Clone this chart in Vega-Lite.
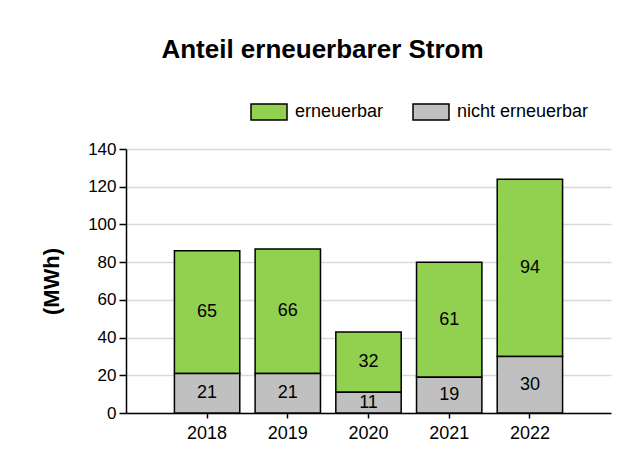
{
  "$schema": "https://vega.github.io/schema/vega-lite/v6.json",
  "width": 485,
  "height": 264,
  "autosize": "none",
  "padding": {"left": 126, "top": 149, "right": 32, "bottom": 52},
  "background": "white",
  "config": {
    "font": "Liberation Sans",
    "view": {"stroke": null},
    "axis": {"labelColor": "#000", "titleColor": "#000", "domainColor": "#000", "tickColor": "#000"},
    "axisY": {
      "values": [0, 20, 40, 60, 80, 100, 120, 140],
      "titleFontSize": 22,
      "titleFontWeight": "bold",
      "titlePadding": 24,
      "labelFontSize": 17,
      "labelPadding": 3,
      "tickSize": 7,
      "tickWidth": 1.5,
      "domainWidth": 1.5,
      "grid": true,
      "gridColor": "#d9d9d9",
      "gridWidth": 1.5,
      "labelOverlap": false
    }
  },
  "title": {
    "text": "Anteil erneuerbarer Strom",
    "font": "Liberation Sans",
    "fontSize": 26,
    "fontWeight": "bold",
    "color": "#000",
    "anchor": "middle",
    "frame": "group",
    "baseline": "alphabetic",
    "offset": 9,
    "dx": -46
  },
  "data": {
    "values": [
      {"Jahr": "2018", "Art": "erneuerbar", "MWh": 65},
      {"Jahr": "2018", "Art": "nicht erneuerbar", "MWh": 21},
      {"Jahr": "2019", "Art": "erneuerbar", "MWh": 66},
      {"Jahr": "2019", "Art": "nicht erneuerbar", "MWh": 21},
      {"Jahr": "2020", "Art": "erneuerbar", "MWh": 32},
      {"Jahr": "2020", "Art": "nicht erneuerbar", "MWh": 11},
      {"Jahr": "2021", "Art": "erneuerbar", "MWh": 61},
      {"Jahr": "2021", "Art": "nicht erneuerbar", "MWh": 19},
      {"Jahr": "2022", "Art": "erneuerbar", "MWh": 94},
      {"Jahr": "2022", "Art": "nicht erneuerbar", "MWh": 30}
    ]
  },
  "transform": [
    {"stack": "MWh", "groupby": ["Jahr"], "sort": [{"field": "Art", "order": "descending"}], "as": ["v0", "v1"], "offset": "zero"},
    {"calculate": "(datum.v0 + datum.v1) / 2", "as": "mitte"}
  ],
  "encoding": {
    "x": {
      "field": "Jahr",
      "type": "ordinal",
      "scale": {"paddingInner": 0.19, "paddingOuter": 0.6},
      "axis": {"title": null, "labelAngle": 0, "labelFontSize": 18, "tickSize": 5, "domainWidth": 1.5, "tickWidth": 1.5, "labelPadding": 6}
    }
  },
  "layer": [
    {
      "mark": {"type": "bar", "stroke": "#000", "strokeWidth": 1.5},
      "encoding": {
        "y": {
          "field": "v0",
          "type": "quantitative",
          "scale": {"domain": [0, 140], "nice": false},
          "title": "(MWh)"
        },
        "y2": {"field": "v1"},
        "fill": {
          "field": "Art",
          "type": "nominal",
          "scale": {"domain": ["erneuerbar", "nicht erneuerbar"], "range": ["#92d050", "#c0c0c0"]},
          "legend": {
            "title": null,
            "orient": "none",
            "direction": "horizontal",
            "legendX": 124,
            "legendY": -56,
            "padding": 0,
            "symbolType": "M-1,-0.444H1V0.444H-1Z",
            "symbolSize": 1296,
            "symbolStrokeColor": "#000",
            "symbolStrokeWidth": 1.5,
            "symbolOpacity": 1,
            "labelFontSize": 18,
            "labelColor": "#000",
            "labelOffset": 7,
            "columnPadding": 26
          }
        }
      }
    },
    {
      "mark": {"type": "text", "fontSize": 18, "color": "#000", "baseline": "middle"},
      "encoding": {
        "y": {"field": "mitte", "type": "quantitative", "scale": {"domain": [0, 140], "nice": false}, "title": "(MWh)"},
        "text": {"field": "MWh", "type": "quantitative"}
      }
    }
  ]
}
